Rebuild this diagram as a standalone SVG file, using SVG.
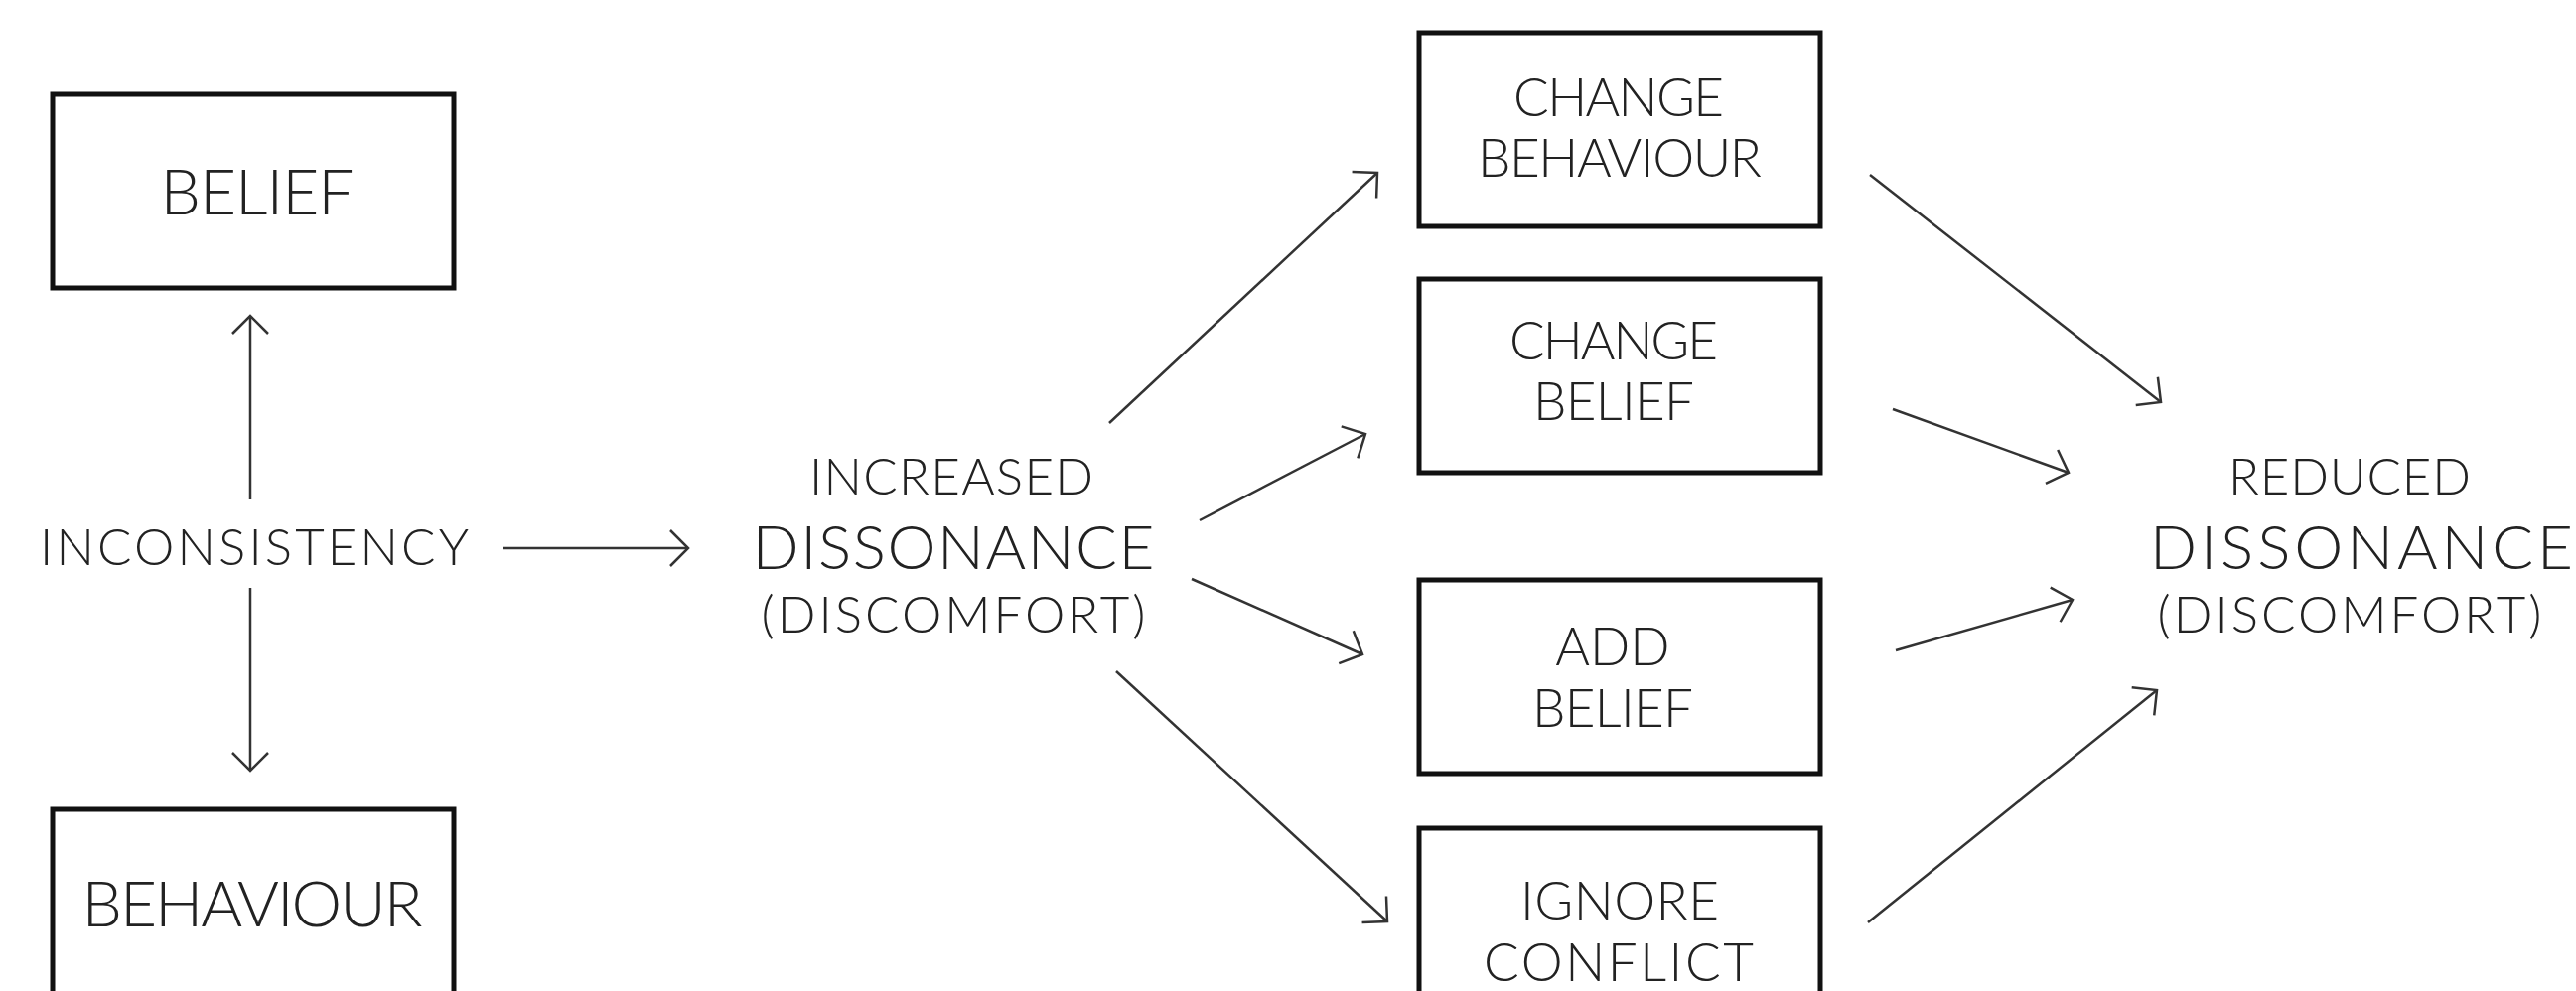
<svg xmlns="http://www.w3.org/2000/svg" width="2594" height="998" viewBox="0 0 2594 998">
  <style>
    .box { fill: #ffffff; stroke: #111111; stroke-width: 5; }
    .t { font-family: Lato, "Open Sans", "DejaVu Sans", sans-serif; font-weight: 300; fill: #222222; text-anchor: middle; }
    .big { font-size: 64px; }
    .mid { font-size: 53px; }
    .sm { font-size: 51px; }
    .dis { font-size: 62px; }
    .conn line { stroke: #333333; stroke-width: 2.5; fill: none; marker-end: url(#arrow); }
  </style>
  <defs>
    <marker id="arrow" viewBox="-22 -22 26 44" refX="0" refY="0" markerWidth="26" markerHeight="44" markerUnits="userSpaceOnUse" orient="auto">
      <path d="M-18,-18 L0,0 L-18,18" fill="none" stroke="#333333" stroke-width="2.5" stroke-linejoin="miter"/>
    </marker>
  </defs>
  <rect width="2594" height="998" fill="#ffffff"/>

  <g id="belief">
    <rect class="box" x="53" y="95" width="404" height="195"/>
    <text class="t big" x="259" y="216" textLength="195" lengthAdjust="spacing">BELIEF</text>
  </g>
  <g id="behaviour">
    <rect class="box" x="53" y="815" width="404" height="200"/>
    <text class="t big" x="254" y="933" textLength="343" lengthAdjust="spacing">BEHAVIOUR</text>
  </g>
  <g id="inconsistency">
    <text class="t sm" x="256" y="569" textLength="432" lengthAdjust="spacing">INCONSISTENCY</text>
  </g>
  <g id="increased-dissonance">
    <text class="t sm" x="958" y="498" textLength="286" lengthAdjust="spacing">INCREASED</text>
    <text class="t dis" x="960" y="573" textLength="405" lengthAdjust="spacing">DISSONANCE</text>
    <text class="t sm" x="960" y="637" textLength="387" lengthAdjust="spacing">(DISCOMFORT)</text>
  </g>
  <g id="change-behaviour">
    <rect class="box" x="1429" y="33" width="404" height="195"/>
    <text class="t mid" x="1630" y="117" textLength="212" lengthAdjust="spacing">CHANGE</text>
    <text class="t mid" x="1631" y="178" textLength="286" lengthAdjust="spacing">BEHAVIOUR</text>
  </g>
  <g id="change-belief">
    <rect class="box" x="1429" y="281" width="404" height="195"/>
    <text class="t mid" x="1625" y="362" textLength="210" lengthAdjust="spacing">CHANGE</text>
    <text class="t mid" x="1625" y="423" textLength="162" lengthAdjust="spacing">BELIEF</text>
  </g>
  <g id="add-belief">
    <rect class="box" x="1429" y="584" width="404" height="195"/>
    <text class="t mid" x="1624" y="670">ADD</text>
    <text class="t mid" x="1624" y="732" textLength="162" lengthAdjust="spacing">BELIEF</text>
  </g>
  <g id="ignore-conflict">
    <rect class="box" x="1429" y="834" width="404" height="200"/>
    <text class="t mid" x="1631" y="926" textLength="200" lengthAdjust="spacing">IGNORE</text>
    <text class="t mid" x="1630" y="988" textLength="272" lengthAdjust="spacing">CONFLICT</text>
  </g>
  <g id="reduced-dissonance">
    <text class="t sm" x="2366" y="498" textLength="244" lengthAdjust="spacing">REDUCED</text>
    <text class="t dis" x="2165" y="573" textLength="426" lengthAdjust="spacing" style="text-anchor:start">DISSONANCE</text>
    <text class="t sm" x="2366" y="637" textLength="387" lengthAdjust="spacing">(DISCOMFORT)</text>
  </g>

  <g id="connectors" class="conn">
    <line x1="252" y1="503" x2="252" y2="318"/>
    <line x1="252" y1="592" x2="252" y2="776"/>
    <line x1="507" y1="552" x2="693" y2="552"/>
    <line x1="1117" y1="426" x2="1387" y2="174"/>
    <line x1="1208" y1="524" x2="1375" y2="437"/>
    <line x1="1200" y1="583" x2="1372" y2="659"/>
    <line x1="1124" y1="676" x2="1397" y2="928"/>
    <line x1="1883" y1="176" x2="2176" y2="405"/>
    <line x1="1906" y1="412" x2="2083" y2="476"/>
    <line x1="1909" y1="655" x2="2087" y2="604"/>
    <line x1="1881" y1="929" x2="2172" y2="695"/>
  </g>
</svg>
